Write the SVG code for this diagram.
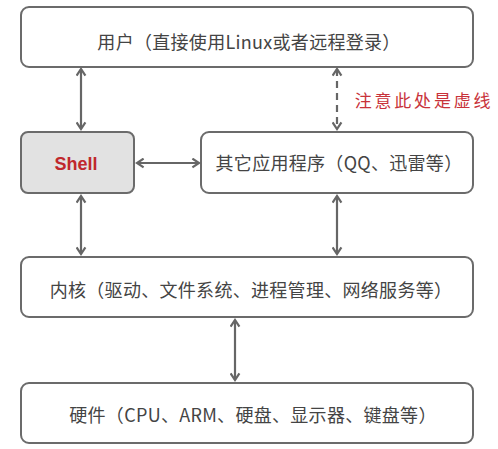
<svg xmlns="http://www.w3.org/2000/svg" width="498" height="449" viewBox="0 0 498 449">
<style>
.box{fill:#fff;stroke:#6b6b6b;stroke-width:2}
.shell{fill:#e2e2e2;stroke:#6b6b6b;stroke-width:2}
.t{font-family:"Noto Sans CJK SC","Noto Sans",sans-serif;font-size:18px;fill:#444;text-anchor:middle;letter-spacing:0.3px}
.c{stroke:#666;stroke-width:2.2;fill:none;marker-start:url(#a);marker-end:url(#a)}
</style>
<defs>
<marker id="a" viewBox="0 0 10 10" refX="8" refY="5" markerWidth="11" markerHeight="11" markerUnits="userSpaceOnUse" orient="auto-start-reverse">
<path d="M2,1 L8,5 L2,9" fill="none" stroke="#666" stroke-width="2"/>
</marker>
</defs>
<rect width="498" height="449" fill="#fff"/>
<g id="user"><rect class="box" x="21" y="7" width="452" height="60" rx="8"/><text class="t" x="249" y="49">用户（直接使用Linux或者远程登录）</text></g>
<g id="shell"><rect class="shell" x="21" y="132" width="113" height="61" rx="7"/><text x="76" y="170" font-family="Liberation Sans,Arial,sans-serif" font-size="18" font-weight="bold" fill="#c0282d" text-anchor="middle">Shell</text></g>
<g id="apps"><rect class="box" x="201" y="132" width="272" height="61" rx="8"/><text class="t" x="339" y="170">其它应用程序（QQ、迅雷等）</text></g>
<g id="kernel"><rect class="box" x="21" y="257" width="452" height="60" rx="8"/><text class="t" x="251" y="297">内核（驱动、文件系统、进程管理、网络服务等）</text></g>
<g id="hardware"><rect class="box" x="21" y="383" width="452" height="60" rx="8"/><text class="t" x="253" y="422">硬件（CPU、ARM、硬盘、显示器、键盘等）</text></g>
<g id="note"><text x="424" y="107" font-family="Noto Sans CJK SC,sans-serif" font-size="17" fill="#c8323a" text-anchor="middle" letter-spacing="2.8">注意此处是虚线</text></g>
<g id="connectors">
<line class="c" x1="81" y1="69" x2="81" y2="129"/>
<line class="c" x1="337" y1="69" x2="337" y2="129" stroke-dasharray="7,5"/>
<line class="c" x1="137" y1="163" x2="199" y2="163"/>
<line class="c" x1="81" y1="196" x2="81" y2="254"/>
<line class="c" x1="337" y1="196" x2="337" y2="254"/>
<line class="c" x1="235" y1="320" x2="235" y2="380"/>
</g>
</svg>
